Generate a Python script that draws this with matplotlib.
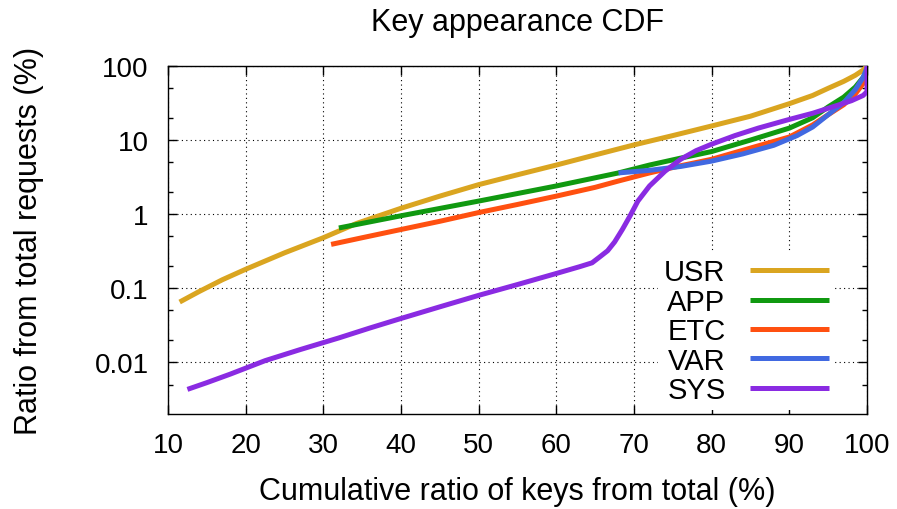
import numpy as np
import matplotlib
matplotlib.use("Agg")
import matplotlib.pyplot as plt
from matplotlib.ticker import FixedLocator, FuncFormatter, NullFormatter

plt.rcParams['font.family'] = ['Liberation Sans', 'DejaVu Sans']

# --- data (x: cumulative % of keys, y: % of requests) ---
usr_x = [11.5, 14, 17, 20, 25, 30, 34.3, 40, 45, 50, 55, 60, 65, 70, 75, 80, 85, 90, 93, 95, 97, 98.5, 99.5, 100]
usr_y = [0.065, 0.09, 0.13, 0.18, 0.3, 0.48, 0.75, 1.2, 1.75, 2.5, 3.4, 4.6, 6.3, 8.6, 11.5, 15.5, 21, 31, 40, 50, 62, 75, 88, 100]

app_x = [32, 40, 50, 60, 68, 72, 76, 80, 85, 90, 93, 95, 97, 98.5, 99.5, 100]
app_y = [0.65, 0.95, 1.5, 2.4, 3.6, 4.6, 5.7, 7, 10, 14.5, 20, 28, 38, 52, 70, 85]

etc_x = [31, 35, 40, 45, 50, 55, 60, 65, 68, 72, 76, 80, 85, 90, 93, 95, 97, 98.5, 99.5, 100]
etc_y = [0.39, 0.48, 0.62, 0.8, 1.05, 1.35, 1.75, 2.3, 2.8, 3.6, 4.5, 5.5, 7.8, 11, 16, 22, 30, 42, 58, 75]

var_x = [68, 72, 76, 80, 84, 88, 91, 93, 95, 97, 98.5, 99.5, 100]
var_y = [3.6, 3.9, 4.4, 5.2, 6.5, 8.5, 11.5, 15, 22, 32, 48, 70, 95]

sys_x = [12.5, 15, 18, 22.5, 27, 32, 36, 40, 45, 50, 55, 60, 63, 64.6, 65.5, 66.6, 67.5, 68.5, 69.5, 70.5,
         72, 74, 76, 78, 80, 83, 86, 90, 93, 96, 98, 99.5, 100, 100]
sys_y = [0.0043, 0.0053, 0.0069, 0.0105, 0.0148, 0.0213, 0.029, 0.039, 0.056, 0.08, 0.112, 0.158, 0.195, 0.22,
         0.26, 0.32, 0.42, 0.62, 0.95, 1.5, 2.4, 3.8, 5.5, 7.2, 8.8, 11.5, 14.5, 19, 23, 29, 34, 40, 45, 100]

series = [
    ("USR", usr_x, usr_y, "#DAA520"),
    ("APP", app_x, app_y, "#109910"),
    ("ETC", etc_x, etc_y, "#FF5010"),
    ("VAR", var_x, var_y, "#4169E1"),
    ("SYS", sys_x, sys_y, "#8A2BE2"),
]

x_ticks = [10, 20, 30, 40, 50, 60, 70, 80, 90, 100]
y_ticks = [0.01, 0.1, 1, 10, 100]
y_minor = [0.005, 0.02, 0.05, 0.2, 0.5, 2, 5, 20, 50]

fig = plt.figure(figsize=(8.97, 5.10), dpi=100)
ax = fig.add_axes([168/897, 1 - 415/510, (867-168)/897, (415-67)/510])

for name, xs, ys, col in series:
    ax.plot(xs, ys, color=col, lw=3.6, label=name, solid_capstyle='butt', zorder=3)

ax.set_yscale('log')
ax.set_xlim(10, 100)
ax.set_ylim(0.002, 100)

ax.xaxis.set_major_locator(FixedLocator(x_ticks))
ax.yaxis.set_major_locator(FixedLocator(y_ticks))
ax.yaxis.set_minor_locator(FixedLocator(y_minor))
ax.yaxis.set_major_formatter(FuncFormatter(lambda v, p: '%g' % v))
ax.yaxis.set_minor_formatter(NullFormatter())

ax.tick_params(which='both', direction='in', top=True, right=True, labelsize=20, color='black')
ax.tick_params(which='major', length=6.5, width=1, pad=14)
ax.tick_params(which='minor', length=3.5, width=1)
ax.tick_params(axis='x', pad=13)

ax.grid(True, which='major', color='black', linestyle=(0, (1, 3)), linewidth=0.8, zorder=0)
ax.set_axisbelow(True)
for sp in ax.spines.values():
    sp.set_linewidth(1.0)

ax.set_title("Key appearance CDF", fontsize=22, pad=26)
ax.set_xlabel("Cumulative ratio of keys from total (%)", fontsize=22, labelpad=13)
ax.set_ylabel("Ratio from total requests (%)", fontsize=22, labelpad=36)

leg = ax.legend(loc='lower right', bbox_to_anchor=(0.954, 0.0115), markerfirst=False, frameon=True,
                fontsize=21, handlelength=2.7, handletextpad=0.85, labelspacing=0.05,
                borderpad=0.2, borderaxespad=0, fancybox=False)
leg.get_frame().set_edgecolor('none')
leg.get_frame().set_facecolor('white')
leg.get_frame().set_alpha(1)
for t in leg.get_texts():
    t.set_ha('right')

fig.savefig("out.png", dpi=100)
